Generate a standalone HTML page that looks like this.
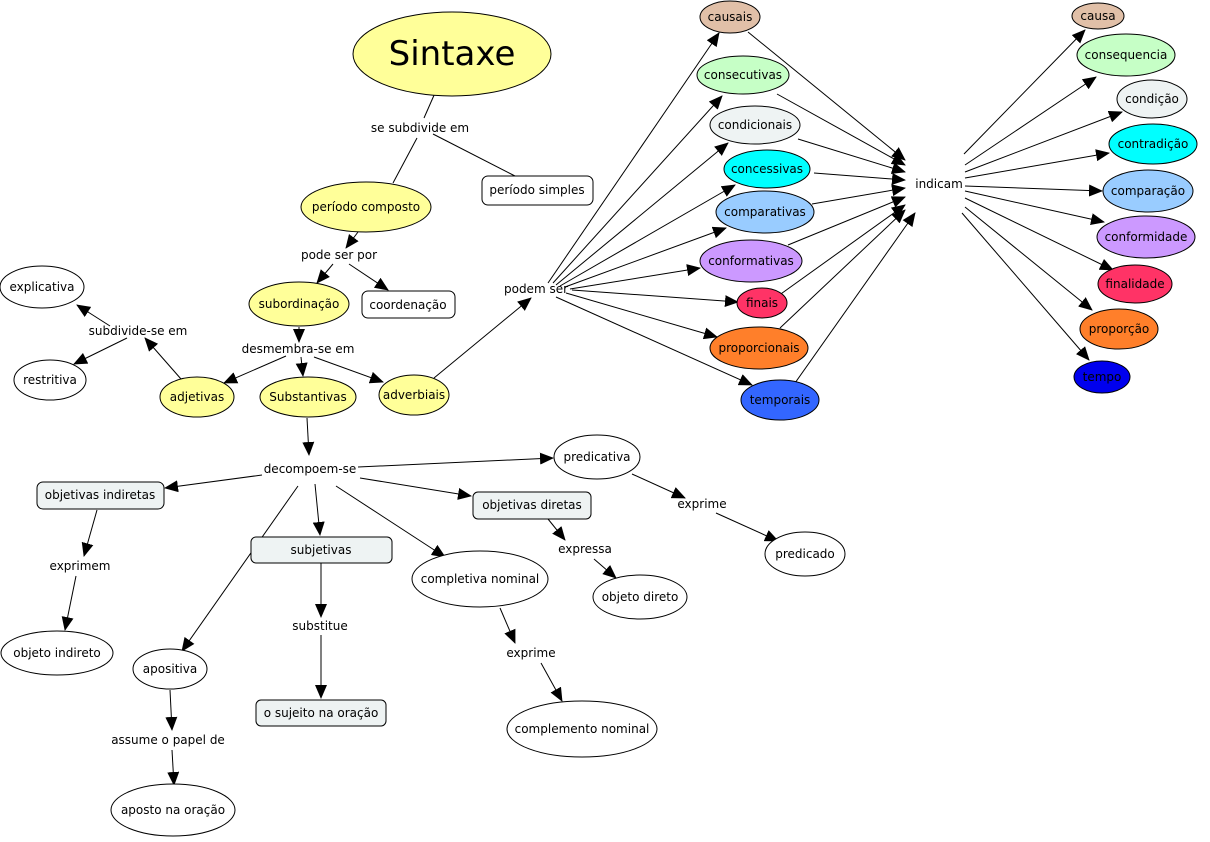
<!DOCTYPE html>
<html><head><meta charset="utf-8"><style>
html,body{margin:0;padding:0;background:#fff;}
svg{display:block;}
text{font-family:"DejaVu Sans","Liberation Sans",sans-serif;font-size:12px;fill:#000;text-anchor:middle;dominant-baseline:central;}
.n{stroke:#000;stroke-width:1;}
.e{stroke:#000;stroke-width:1;fill:none;}
</style></head><body>
<svg width="1210" height="842" viewBox="0 0 1210 842" xmlns="http://www.w3.org/2000/svg">
<defs>
<marker id="a" markerUnits="userSpaceOnUse" markerWidth="14" markerHeight="12" refX="13" refY="6" orient="auto">
<path d="M0,0 L14,6 L0,12 z" fill="#000"/>
</marker>
</defs>
<g class="e">
<line x1="435" y1="93" x2="424" y2="118"/>
<line x1="417" y1="138" x2="393" y2="183"/>
<line x1="433" y1="134" x2="515" y2="176"/>
</g>
<g class="e" marker-end="url(#a)">
<line x1="358" y1="232" x2="346" y2="248"/>
<line x1="333" y1="264" x2="317" y2="283"/>
<line x1="349" y1="264" x2="388" y2="290"/>
<line x1="299" y1="327" x2="299" y2="342"/>
<line x1="286" y1="356" x2="224" y2="383"/>
<line x1="301" y1="357" x2="303" y2="376"/>
<line x1="314" y1="357" x2="383" y2="382"/>
<line x1="181" y1="379" x2="145" y2="338"/>
<line x1="110" y1="326" x2="77" y2="305"/>
<line x1="127" y1="338" x2="74" y2="364"/>
<line x1="434" y1="378" x2="531" y2="298"/>
<line x1="307" y1="418" x2="309" y2="455"/>
<line x1="262" y1="475" x2="165" y2="488"/>
<line x1="358" y1="467" x2="553" y2="458"/>
<line x1="360" y1="478" x2="471" y2="496"/>
<line x1="315" y1="484" x2="320" y2="535"/>
<line x1="336" y1="486" x2="445" y2="557"/>
<line x1="298" y1="486" x2="182" y2="651"/>
<line x1="97" y1="510" x2="84" y2="556"/>
<line x1="76" y1="576" x2="65" y2="630"/>
<line x1="321" y1="563" x2="321" y2="617"/>
<line x1="321" y1="635" x2="321" y2="698"/>
<line x1="170" y1="690" x2="172" y2="730"/>
<line x1="172" y1="750" x2="174" y2="785"/>
<line x1="500" y1="608" x2="515" y2="643"/>
<line x1="541" y1="663" x2="562" y2="701"/>
<line x1="548" y1="519" x2="565" y2="540"/>
<line x1="594" y1="559" x2="616" y2="578"/>
<line x1="632" y1="474" x2="685" y2="498"/>
<line x1="716" y1="513" x2="778" y2="541"/>
<line x1="548" y1="283" x2="719" y2="33"/>
<line x1="553" y1="283" x2="722" y2="96"/>
<line x1="556" y1="285" x2="728" y2="143"/>
<line x1="560" y1="286" x2="735" y2="185"/>
<line x1="565" y1="287" x2="726" y2="228"/>
<line x1="570" y1="289" x2="700" y2="268"/>
<line x1="572" y1="290" x2="738" y2="302"/>
<line x1="566" y1="293" x2="717" y2="337"/>
<line x1="556" y1="297" x2="752" y2="385"/>
<line x1="748" y1="32" x2="905" y2="160"/>
<line x1="777" y1="94" x2="905" y2="165"/>
<line x1="798" y1="139" x2="905" y2="172"/>
<line x1="814" y1="173" x2="905" y2="180"/>
<line x1="812" y1="204" x2="905" y2="188"/>
<line x1="788" y1="245" x2="905" y2="197"/>
<line x1="778" y1="296" x2="905" y2="205"/>
<line x1="780" y1="328" x2="905" y2="210"/>
<line x1="795" y1="383" x2="915" y2="213"/>
<line x1="964" y1="154" x2="1085" y2="30"/>
<line x1="965" y1="165" x2="1096" y2="77"/>
<line x1="965" y1="172" x2="1122" y2="112"/>
<line x1="965" y1="178" x2="1109" y2="153"/>
<line x1="965" y1="186" x2="1102" y2="191"/>
<line x1="965" y1="191" x2="1104" y2="222"/>
<line x1="965" y1="198" x2="1113" y2="270"/>
<line x1="965" y1="207" x2="1092" y2="310"/>
<line x1="962" y1="213" x2="1089" y2="360"/>
</g>

<g class="n">
<ellipse cx="452" cy="54" rx="99" ry="42" fill="#ffff99"/>
<ellipse cx="366" cy="207" rx="65" ry="25" fill="#ffff99"/>
<rect x="482" y="176" width="111" height="29" rx="6" fill="#fff"/>
<ellipse cx="299" cy="304" rx="50" ry="22" fill="#ffff99"/>
<rect x="362" y="291" width="93" height="27" rx="6" fill="#fff"/>
<ellipse cx="197" cy="397" rx="37" ry="20" fill="#ffff99"/>
<ellipse cx="308" cy="397" rx="48" ry="20" fill="#ffff99"/>
<ellipse cx="414" cy="395" rx="35" ry="20" fill="#ffff99"/>
<ellipse cx="42" cy="287" rx="42" ry="21" fill="#fff"/>
<ellipse cx="50" cy="380" rx="36" ry="20" fill="#fff"/>
<rect x="37" y="482" width="127" height="27" rx="6" fill="#eef3f3"/>
<ellipse cx="57" cy="653" rx="56" ry="22" fill="#fff"/>
<rect x="251" y="537" width="141" height="26" rx="5" fill="#eef3f3"/>
<rect x="256" y="700" width="130" height="26" rx="5" fill="#eef3f3"/>
<ellipse cx="170" cy="669" rx="37" ry="20" fill="#fff"/>
<ellipse cx="173" cy="810" rx="62" ry="26" fill="#fff"/>
<ellipse cx="480" cy="579" rx="68" ry="28" fill="#fff"/>
<ellipse cx="582" cy="729" rx="75" ry="28" fill="#fff"/>
<rect x="473" y="492" width="118" height="27" rx="5" fill="#eef3f3"/>
<ellipse cx="640" cy="597" rx="47" ry="22" fill="#fff"/>
<ellipse cx="597" cy="457" rx="43" ry="22" fill="#fff"/>
<ellipse cx="805" cy="554" rx="40" ry="22" fill="#fff"/>

<ellipse cx="730" cy="17" rx="30" ry="16" fill="#e1c0a8"/>
<ellipse cx="743" cy="75" rx="46" ry="19" fill="#c6ffc6"/>
<ellipse cx="755" cy="125" rx="45" ry="19" fill="#eef3f3"/>
<ellipse cx="767" cy="169" rx="43" ry="19" fill="#00ffff"/>
<ellipse cx="765" cy="212" rx="49" ry="21" fill="#99ccff"/>
<ellipse cx="751" cy="261" rx="51" ry="21" fill="#cc99ff"/>
<ellipse cx="762" cy="303" rx="25" ry="15" fill="#ff3366"/>
<ellipse cx="759" cy="348" rx="49" ry="21" fill="#ff7f2a"/>
<ellipse cx="780" cy="400" rx="39" ry="20" fill="#3366ff"/>

<ellipse cx="1098" cy="16" rx="26" ry="13" fill="#e1c0a8"/>
<ellipse cx="1126" cy="55" rx="49" ry="21" fill="#c6ffc6"/>
<ellipse cx="1152" cy="99" rx="35" ry="19" fill="#eef3f3"/>
<ellipse cx="1153" cy="144" rx="44" ry="20" fill="#00ffff"/>
<ellipse cx="1148" cy="191" rx="45" ry="21" fill="#99ccff"/>
<ellipse cx="1146" cy="237" rx="49" ry="21" fill="#cc99ff"/>
<ellipse cx="1135" cy="284" rx="37" ry="19" fill="#ff3366"/>
<ellipse cx="1119" cy="329" rx="39" ry="20" fill="#ff7f2a"/>
<ellipse cx="1102" cy="377" rx="28" ry="16" fill="#0000ee"/>
</g>

<text x="452" y="54" style="font-size:34px">Sintaxe</text>
<text x="420" y="128">se subdivide em</text>
<text x="366" y="207">período composto</text>
<text x="537" y="190">período simples</text>
<text x="339" y="255">pode ser por</text>
<text x="299" y="304">subordinação</text>
<text x="408" y="305">coordenação</text>
<text x="298" y="349">desmembra-se em</text>
<text x="197" y="397">adjetivas</text>
<text x="308" y="397">Substantivas</text>
<text x="414" y="395">adverbiais</text>
<text x="138" y="331">subdivide-se em</text>
<text x="42" y="287">explicativa</text>
<text x="50" y="380">restritiva</text>
<text x="310" y="469">decompoem-se</text>
<text x="100" y="495">objetivas indiretas</text>
<text x="80" y="566">exprimem</text>
<text x="57" y="653">objeto indireto</text>
<text x="321" y="550">subjetivas</text>
<text x="320" y="626">substitue</text>
<text x="321" y="713">o sujeito na oração</text>
<text x="170" y="669">apositiva</text>
<text x="168" y="740">assume o papel de</text>
<text x="173" y="810">aposto na oração</text>
<text x="480" y="579">completiva nominal</text>
<text x="531" y="653">exprime</text>
<text x="582" y="729">complemento nominal</text>
<text x="532" y="505">objetivas diretas</text>
<text x="585" y="549">expressa</text>
<text x="640" y="597">objeto direto</text>
<text x="597" y="457">predicativa</text>
<text x="702" y="504">exprime</text>
<text x="805" y="554">predicado</text>
<text x="536" y="289">podem ser</text>
<text x="939" y="184">indicam</text>

<text x="730" y="17">causais</text>
<text x="743" y="75">consecutivas</text>
<text x="755" y="125">condicionais</text>
<text x="767" y="169">concessivas</text>
<text x="765" y="212">comparativas</text>
<text x="751" y="261">conformativas</text>
<text x="762" y="303">finais</text>
<text x="759" y="348">proporcionais</text>
<text x="780" y="400">temporais</text>
<text x="1098" y="16">causa</text>
<text x="1126" y="55">consequencia</text>
<text x="1152" y="99">condição</text>
<text x="1153" y="144">contradição</text>
<text x="1148" y="191">comparação</text>
<text x="1146" y="237">conformidade</text>
<text x="1135" y="284">finalidade</text>
<text x="1119" y="329">proporção</text>
<text x="1102" y="377">tempo</text>
</svg>
</body></html>
